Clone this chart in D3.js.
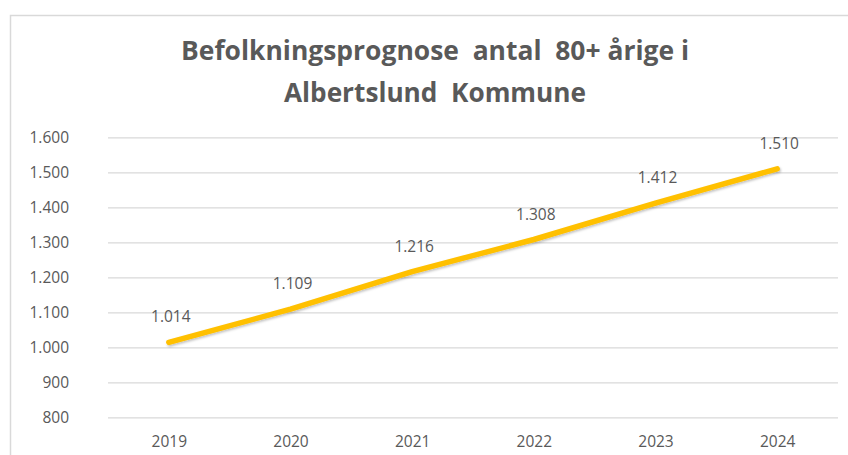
<!DOCTYPE html>
<html>
<head>
<meta charset="utf-8">
<script src="https://cdn.jsdelivr.net/npm/d3@7"></script>
<style>
  body { margin: 0; background: #fff; }
  svg { display: block; }
</style>
</head>
<body>
<svg id="chart" width="848" height="455"></svg>
<script>
// chart data
var years = ['2019', '2020', '2021', '2022', '2023', '2024']
var antal = [1014, 1109, 1216, 1308, 1412, 1510]
var yTicks = [800, 900, 1000, 1100, 1200, 1300, 1400, 1500, 1600]
var titleLines = ['Befolkningsprognose\u00a0 antal\u00a0 80+ årige i', 'Albertslund\u00a0 Kommune']

var txtColor = '#595959'
var gridColor = '#d9d9d9'
var lineColor = '#ffc000'
var fontFam = "'Open Sans', 'DejaVu Sans', sans-serif"

// danish number format 1.014
var dk = d3.formatLocale({ decimal: ',', thousands: '.', grouping: [3], currency: ['', ' kr.'] })
var fmt = dk.format(',d')

var svg = d3.select('#chart')

// outer chart border (runs off the right and bottom edge of the picture)
svg.append('rect')
  .attr('x', 10.5)
  .attr('y', 15.5)
  .attr('width', 860)
  .attr('height', 460)
  .attr('fill', 'white')
  .attr('stroke', gridColor)
  .attr('stroke-width', 1.5)

// title
var titleWidths = [508, 302]
titleLines.forEach(function (t, i) {
  svg.append('text')
    .attr('x', 435)
    .attr('y', 60 + i * 42)
    .attr('text-anchor', 'middle')
    .attr('textLength', titleWidths[i])
    .attr('lengthAdjust', 'spacingAndGlyphs')
    .attr('style', 'font-family: ' + fontFam + '; font-size: 26px; font-weight: 700;')
    .attr('fill', txtColor)
    .text(t)
})

var plotLeft = 108
var plotRight = 838
var plotTop = 137.3
var plotBottom = 417.3

var x = d3.scalePoint().domain(years).range([plotLeft, plotRight]).padding(0.5)
var y = d3.scaleLinear().domain([800, 1600]).range([plotBottom, plotTop])

// y axis with gridlines
var yAxis = svg.append('g')
  .attr('transform', 'translate(' + plotLeft + ',0)')
  .call(d3.axisLeft(y).tickValues(yTicks).tickFormat(fmt).tickSize(-(plotRight - plotLeft)).tickPadding(39))
yAxis.select('.domain').remove()
yAxis.selectAll('line').attr('stroke', gridColor).attr('stroke-width', 1.3)
yAxis.selectAll('text')
  .attr('fill', txtColor)
  .attr('style', 'font-family: ' + fontFam + '; font-size: 15.5px;')

// x axis
var xAxis = svg.append('g')
  .attr('transform', 'translate(0,' + plotBottom + ')')
  .call(d3.axisBottom(x).tickSize(0).tickPadding(19))
xAxis.select('.domain').remove()
xAxis.selectAll('text')
  .attr('fill', txtColor)
  .attr('style', 'font-family: ' + fontFam + '; font-size: 15.5px;')

// soft shadow like excel
var defs = svg.append('defs')
var filt = defs.append('filter').attr('id', 'shadow').attr('x', '-5%').attr('y', '-20%').attr('width', '110%').attr('height', '140%')
filt.append('feDropShadow')
  .attr('dx', 1).attr('dy', 1.5).attr('stdDeviation', 1.2)
  .attr('flood-color', '#000').attr('flood-opacity', 0.25)

var pts = years.map(function (yr, i) { return { year: yr, v: antal[i] } })

var line = d3.line()
  .x(function (d) { return x(d.year) })
  .y(function (d) { return y(d.v) })

svg.append('path')
  .datum(pts)
  .attr('d', line)
  .attr('fill', 'none')
  .attr('stroke', lineColor)
  .attr('stroke-width', 5.5)
  .attr('stroke-linecap', 'round')
  .attr('stroke-linejoin', 'round')
  .attr('filter', 'url(#shadow)')

// data labels above each point
svg.append('g')
  .selectAll('text')
  .data(pts)
  .enter()
  .append('text')
  .attr('x', function (d) { return x(d.year) + 2 })
  .attr('y', function (d) { return y(d.v) - 20 })
  .attr('text-anchor', 'middle')
  .attr('fill', txtColor)
  .attr('style', 'font-family: ' + fontFam + '; font-size: 15.5px;')
  .text(function (d) { return fmt(d.v) })
</script>
</body>
</html>
